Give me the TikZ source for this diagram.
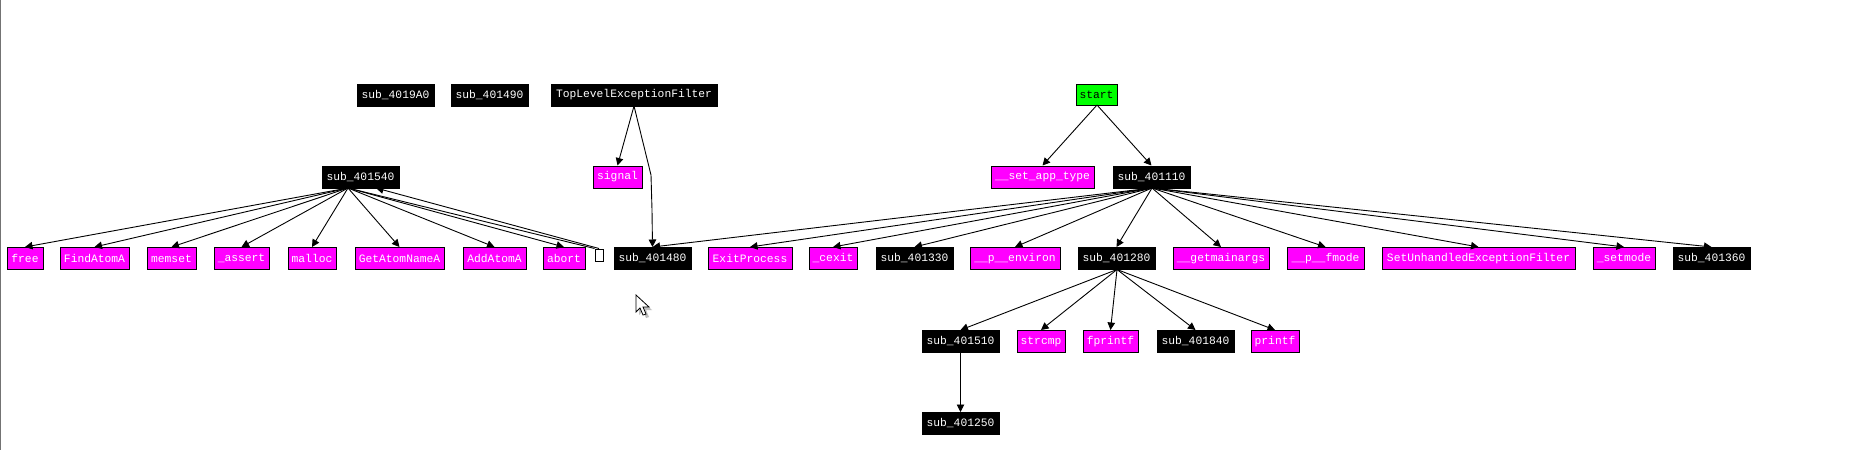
\documentclass[tikz,border=0pt]{standalone}
\usepackage{fontspec}
\setmonofont{Liberation Mono}
\usetikzlibrary{arrows.meta}
\definecolor{imp}{RGB}{255,0,255}
\definecolor{startg}{RGB}{0,255,0}
\tikzset{
  nbox/.style={draw=black, line width=1pt, inner sep=0pt, minimum height=22, font=\ttfamily\fontsize{11.3}{12}\selectfont},
  sub/.style={nbox, fill=black, text=white},
  impn/.style={nbox, fill=imp, text=white},
  startn/.style={nbox, fill=startg, text=black},
  arr/.style={-{Triangle[length=7.5pt,width=7.5pt]}, line width=0.9pt, black},
  ln/.style={line width=0.9pt, black},
}
\begin{document}
\begin{tikzpicture}[x=1pt,y=-1pt]
\useasboundingbox (0,0) rectangle (1857,450);
\fill[white] (0,0) rectangle (1857,450);
\draw[gray!110, line width=1.2pt] (0.6,0) -- (0.6,450);

% top row
\node[sub, minimum width=77] (a19A0) at (395.5,95) {sub\_4019A0};
\node[sub, minimum width=77] (a1490) at (489.5,95) {sub\_401490};
\node[sub, minimum width=166] (tlef) at (634,95) {TopLevelExceptionFilter};
\node[startn, minimum width=41, minimum height=21] (start) at (1096.5,94.5) {start};

% second row
\node[sub, minimum width=77] (a1540) at (360.5,177) {sub\_401540};
\node[impn, minimum width=49] (signal) at (617.5,177) {signal};
\node[impn, minimum width=103] (setapp) at (1042.5,177) {\_\_set\_app\_type};
\node[sub, minimum width=77] (a1110) at (1151.5,177) {sub\_401110};

% third row
\node[impn, minimum width=36] (free) at (25,258.5) {free};
\node[impn, minimum width=69] (findatom) at (94.5,258.5) {FindAtomA};
\node[impn, minimum width=49] (memset) at (171.5,258.5) {memset};
\node[impn, minimum width=55] (assert) at (241.5,258.5) {\_assert};
\node[impn, minimum width=48] (malloc) at (312,258.5) {malloc};
\node[impn, minimum width=89] (getatom) at (399.5,258.5) {GetAtomNameA};
\node[impn, minimum width=63] (addatom) at (494.5,258.5) {AddAtomA};
\node[impn, minimum width=42] (abort) at (564,258.5) {abort};
\node[draw=black, fill=white, line width=1pt, inner sep=0pt, minimum width=8, minimum height=12] (loop) at (599,255) {};
\node[sub, minimum width=77] (a1480) at (652.5,258.5) {sub\_401480};
\node[impn, minimum width=84] (exitp) at (750,258.5) {ExitProcess};
\node[impn, minimum width=48] (cexit) at (833,258.5) {\_cexit};
\node[sub, minimum width=77] (a1330) at (914.5,258.5) {sub\_401330};
\node[impn, minimum width=90] (penv) at (1015,258.5) {\_\_p\_\_environ};
\node[sub, minimum width=77] (a1280) at (1116.5,258.5) {sub\_401280};
\node[impn, minimum width=96] (getmain) at (1221,258.5) {\_\_getmainargs};
\node[impn, minimum width=77] (pfmode) at (1325.5,258.5) {\_\_p\_\_fmode};
\node[impn, minimum width=193] (setunh) at (1478.5,258.5) {SetUnhandledExceptionFilter};
\node[impn, minimum width=62] (setmode) at (1624,258.5) {\_setmode};
\node[sub, minimum width=77] (a1360) at (1711.5,258.5) {sub\_401360};

% fourth row
\node[sub, minimum width=77] (a1510) at (960.5,341.5) {sub\_401510};
\node[impn, minimum width=48] (strcmp) at (1041,341.5) {strcmp};
\node[impn, minimum width=55] (fprintf) at (1110.5,341.5) {fprintf};
\node[sub, minimum width=77] (a1840) at (1195.5,341.5) {sub\_401840};
\node[impn, minimum width=48] (printf) at (1275,341.5) {printf};

% fifth row
\node[sub, minimum width=77] (a1250) at (960.5,423.5) {sub\_401250};

% edge ports
\coordinate (p1540) at (348,188);
\coordinate (p1540in) at (376,188);
\coordinate (ptlef) at (634,106);
\coordinate (bend1) at (651,175);
\coordinate (bend2) at (652,210);
\coordinate (pstart) at (1097,105);
\coordinate (p1110) at (1152,188);
\coordinate (p1280) at (1117,269.5);

% sub_401540 edges
\foreach \t in {free,findatom,memset,assert,malloc,getatom,addatom,abort}
  \draw[arr] (p1540) -- (\t.north);
\draw[ln] (p1540) -- (loop.north west);
\draw[arr] (loop.north) -- (p1540in);

% TopLevelExceptionFilter
\draw[arr] (ptlef) -- (signal.north);
\draw[arr] (ptlef) -- (bend1) -- (bend2) -- (a1480.north);

% start
\draw[arr] (pstart) -- (setapp.north);
\draw[arr] (pstart) -- (a1110.north);

% sub_401110
\foreach \t in {a1480,exitp,cexit,a1330,penv,a1280,getmain,pfmode,setunh,setmode,a1360}
  \draw[arr] (p1110) -- (\t.north);

% sub_401280
\foreach \t in {a1510,strcmp,fprintf,a1840,printf}
  \draw[arr] (p1280) -- (\t.north);

% sub_401510
\draw[arr] (a1510.south) -- (a1250.north);

% mouse cursor
\fill[black!25] (639,298) -- (639,315) -- (643,311) -- (646,318) -- (649,317) -- (646,310) -- (652,310) -- cycle;
\draw[fill=white, line width=0.8pt, line join=miter] (636,295) -- (636,312) -- (640,308) -- (643,315) -- (646,314) -- (643,307) -- (649,307) -- cycle;
\end{tikzpicture}
\end{document}
